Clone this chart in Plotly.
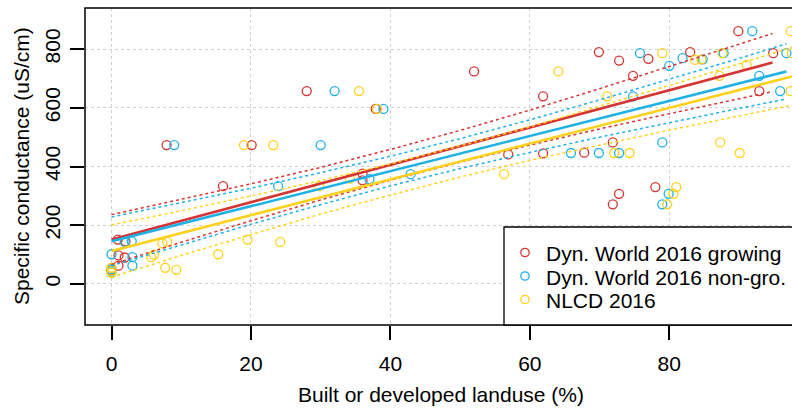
import plotly.graph_objects as go

# ---------------- data ----------------
series_names = ["Dyn. World 2016 growing", "Dyn. World 2016 non-gro.", "NLCD 2016"]

red_x = [0.0, 0.9, 2.0, 1.0, 1.9, 1.0, 7.9, 16.0, 20.1, 28.0, 36.0, 36.0, 37.9, 52.0,
         56.9, 61.9, 61.9, 67.8, 69.9, 71.9, 71.9, 72.8, 72.8, 74.8, 77.0, 78.0, 83.0,
         89.9, 92.9, 94.9]
red_y = [48, 151, 145, 97, 90, 62, 473, 333, 473, 657, 376, 353, 596, 724,
         441, 639, 445, 447, 790, 482, 271, 761, 307, 709, 767, 330, 790,
         861, 657, 786]

blue_x = [0.0, 0.0, 0.0, 1.9, 2.9, 3.0, 3.0, 9.0, 23.9, 30.0, 32.0, 37.0, 39.0, 42.9,
          65.9, 69.9, 72.8, 74.8, 75.8, 79.0, 79.0, 79.9, 80.0, 81.9, 84.8, 87.8,
          91.9, 92.9, 95.9, 96.8]
blue_y = [101, 50, 42, 143, 145, 91, 62, 473, 333, 473, 657, 357, 596, 374,
          446, 446, 446, 639, 786, 482, 271, 307, 743, 769, 765, 786,
          861, 709, 657, 786]

yellow_x = [0.0, 0.0, 0.0, 5.7, 6.1, 7.3, 8.0, 7.7, 9.3, 15.3, 19.0, 19.5, 23.2, 24.2,
            29.8, 34.2, 35.5, 38.1, 56.3, 64.1, 71.1, 72.1, 74.3, 79.0, 79.7, 80.6,
            81.0, 83.7, 84.6, 87.2, 87.3, 87.6, 90.1, 91.1, 97.4, 97.4, 97.6]
yellow_y = [55, 45, 38, 91, 99, 138, 143, 55, 48, 101, 473, 151, 473, 143,
            333, 359, 657, 596, 374, 724, 639, 446, 446, 786, 271, 307,
            330, 763, 765, 709, 482, 786, 446, 746, 861, 657, 786]

# fitted regression lines
red_fit_x = [0.0, 94.8]
red_fit_y = [151, 754]
blue_fit_x = [0.0, 96.8]
blue_fit_y = [145, 724]
yellow_fit_x = [0.0, 97.6]
yellow_fit_y = [112, 707]

# 95% confidence bands
red_band_x = [0, 10, 20, 30, 40, 50, 60, 70, 80, 90, 94.8]
red_band_lo = [66, 142, 215, 286, 353, 415, 473, 528, 580, 631, 655]
red_band_hi = [236, 288, 341, 397, 458, 523, 592, 665, 740, 816, 853]

blue_band_x = [0, 10, 20, 30, 40, 50, 60, 70, 80, 90, 96.8]
blue_band_lo = [62, 133, 203, 270, 334, 393, 448, 500, 550, 598, 630]
blue_band_hi = [228, 276, 326, 379, 435, 495, 559, 627, 697, 768, 818]

yellow_band_x = [0, 10, 20, 30, 40, 50, 60, 70, 80, 90, 97.6]
yellow_band_lo = [23, 97, 168, 238, 303, 364, 421, 473, 524, 572, 609]
yellow_band_hi = [201, 249, 300, 352, 409, 470, 535, 605, 676, 750, 806]

x_ticks = [0, 20, 40, 60, 80]
y_ticks = [0, 200, 400, 600, 800]

colors = ["#D63333", "#1DB1E6", "#FFD11A"]

fig = go.Figure()

points = [(red_x, red_y), (blue_x, blue_y), (yellow_x, yellow_y)]
fits = [(red_fit_x, red_fit_y), (blue_fit_x, blue_fit_y), (yellow_fit_x, yellow_fit_y)]
bands = [(red_band_x, red_band_lo, red_band_hi),
         (blue_band_x, blue_band_lo, blue_band_hi),
         (yellow_band_x, yellow_band_lo, yellow_band_hi)]

for (xx, yy), c, nm in zip(points, colors, series_names):
    fig.add_trace(go.Scatter(x=xx, y=yy, mode="markers", name=nm, showlegend=False,
                             marker=dict(symbol="circle-open", size=9, color=c,
                                         line=dict(width=1.3, color=c))))

for (fx, fy), (bx, blo, bhi), c in zip(fits, bands, colors):
    for band in (blo, bhi):
        fig.add_trace(go.Scatter(x=bx, y=band, mode="lines", showlegend=False,
                                 line=dict(color=c, width=1.5, dash="3px,3px")))
    fig.add_trace(go.Scatter(x=fx, y=fy, mode="lines", showlegend=False,
                             line=dict(color=c, width=2.6)))

FONT = "Liberation Sans, Arial, sans-serif"

L, T, B = 85, 8, 83
W, H = 792, 408
pw, ph = W - L, H - T - B

def px_to_paper_x(px):
    return (px - L) / pw

def px_to_paper_y(py):
    return (H - B - py) / ph

shapes = [
    # frame (right side is cut off in the picture)
    dict(type="rect", xref="paper", yref="paper", x0=0, x1=1.2, y0=0, y1=1,
         line=dict(color="black", width=1.5), layer="above"),
    # legend box
    dict(type="rect", xref="paper", yref="paper",
         x0=px_to_paper_x(504), x1=1.2, y0=0, y1=px_to_paper_y(227),
         line=dict(color="black", width=1.3), fillcolor="white", layer="above"),
]

annotations = []
leg_rows = [252.5, 276, 299.5]
for nm, c, ry in zip(series_names, colors, leg_rows):
    cx, r = 525, 4.2
    shapes.append(dict(type="circle", xref="paper", yref="paper",
                       x0=px_to_paper_x(cx - r), x1=px_to_paper_x(cx + r),
                       y0=px_to_paper_y(ry + r), y1=px_to_paper_y(ry - r),
                       line=dict(color=c, width=1.3), layer="above"))
    annotations.append(dict(text=nm, xref="paper", yref="paper",
                            x=px_to_paper_x(544), y=px_to_paper_y(ry + 1),
                            xanchor="left", yanchor="middle", showarrow=False,
                            font=dict(family=FONT, size=21, color="black")))

annotations.append(dict(text="Built or developed landuse (%)", xref="paper", yref="paper",
                        x=px_to_paper_x(441), y=px_to_paper_y(394),
                        xanchor="center", yanchor="middle", showarrow=False,
                        font=dict(family=FONT, size=21, color="black")))
annotations.append(dict(text="Specific conductance (uS/cm)", xref="paper", yref="paper",
                        x=px_to_paper_x(21), y=px_to_paper_y(166), textangle=-90,
                        xanchor="center", yanchor="middle", showarrow=False,
                        font=dict(family=FONT, size=21, color="black")))

fig.update_layout(
    width=W, height=H,
    margin=dict(l=L, r=0, t=T, b=B, pad=0),
    paper_bgcolor="white", plot_bgcolor="white",
    font=dict(family=FONT, size=21, color="black"),
    shapes=shapes, annotations=annotations,
    showlegend=False,
)

fig.update_xaxes(range=[-3.8, 97.6], tickvals=x_ticks, ticktext=[str(v) for v in x_ticks],
                 showgrid=True, gridcolor="#d0d0d0", griddash="dot", gridwidth=1.2,
                 zeroline=False, showline=False, ticks="outside", ticklen=14,
                 tickwidth=1.5, tickcolor="black", ticklabelstandoff=6)
fig.update_yaxes(range=[-140, 940], tickvals=y_ticks, ticktext=[str(v) for v in y_ticks],
                 showgrid=True, gridcolor="#d0d0d0", griddash="dot", gridwidth=1.2,
                 zeroline=False, showline=False, ticks="outside", ticklen=14,
                 tickwidth=1.5, tickcolor="black", tickangle=-90, ticklabelstandoff=2)

fig.write_html("out.html", config={"displayModeBar": False},
               post_script="document.body.style.margin='0px';")
